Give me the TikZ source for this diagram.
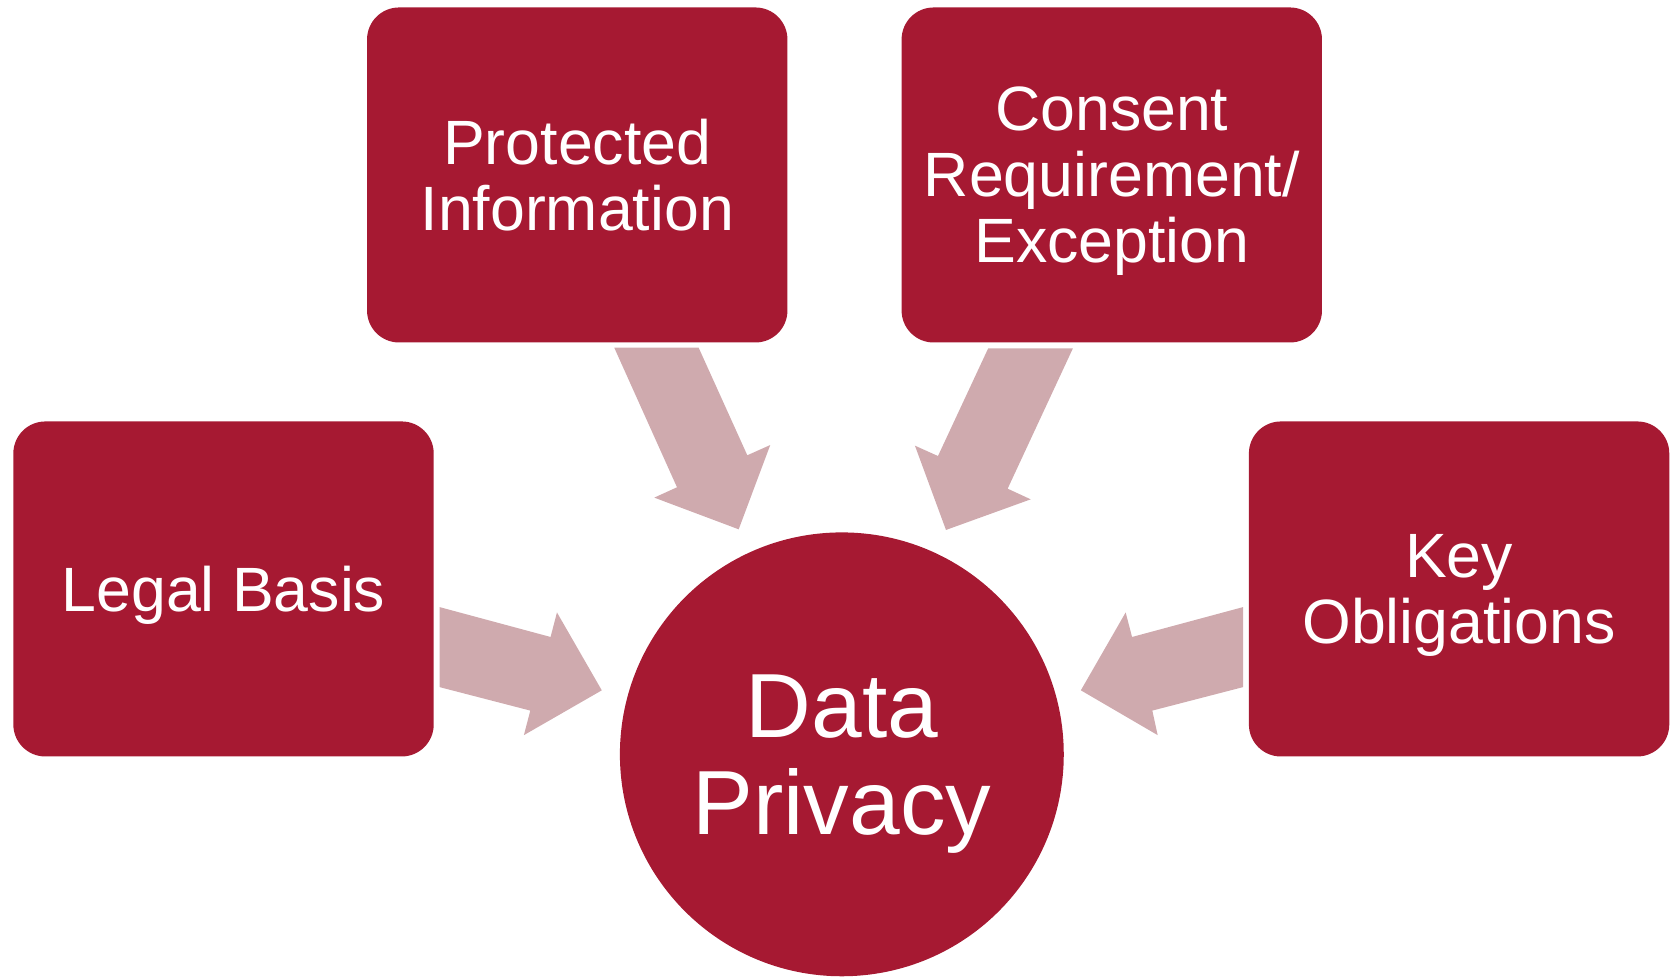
\documentclass[tikz,border=0pt]{standalone}
\usepackage{fontspec}
\setmainfont{Liberation Sans}
\definecolor{boxred}{RGB}{166,25,50}
\definecolor{arrowpink}{RGB}{207,170,174}
\tikzset{
  topic/.style={fill=boxred, text=white, rounded corners=0.3cm, minimum width=3.94cm, minimum height=3.14cm, inner sep=0pt, align=center, text depth=0pt, font=\fontsize{16.7}{17.6}\selectfont},
  hub/.style={circle, fill=boxred, text=white, minimum size=4.16cm, inner sep=0pt, align=center, text depth=0pt, font=\fontsize{24.3}{25.9}\selectfont},
  flow/.style={fill=arrowpink}
}
\begin{document}
\begin{tikzpicture}
\useasboundingbox (0,0) rectangle (15.68,9.15);
\node[topic] (protected) at (5.41,7.51) {Protected\\Information};
\node[topic] (consent) at (10.42,7.51) {Consent\\Requirement/\\Exception};
\node[topic] (legal) at (2.095,3.63) {Legal Basis};
\node[topic] (key) at (13.675,3.63) {Key\\Obligations};
\node[hub] (privacy) at (7.89,2.08) {Data\\Privacy};
% block arrows into the hub
\fill[flow] (4.12,3.46) -- (5.16,3.18) -- (5.22,3.41) -- (5.64,2.68) -- (4.91,2.26) -- (4.97,2.49) -- (4.12,2.71) -- cycle;
\fill[flow] (11.65,3.46) -- (10.61,3.18) -- (10.55,3.41) -- (10.13,2.68) -- (10.85,2.26) -- (10.80,2.49) -- (11.65,2.71) -- cycle;
\fill[flow] (5.757,5.891) -- (6.548,5.891) -- (7.004,4.883) -- (7.219,4.979) -- (6.923,4.189) -- (6.132,4.486) -- (6.345,4.583) -- cycle;
\fill[flow] (10.056,5.886) -- (9.262,5.886) -- (8.791,4.876) -- (8.575,4.973) -- (8.866,4.183) -- (9.66,4.47) -- (9.444,4.57) -- cycle;
\end{tikzpicture}
\end{document}
